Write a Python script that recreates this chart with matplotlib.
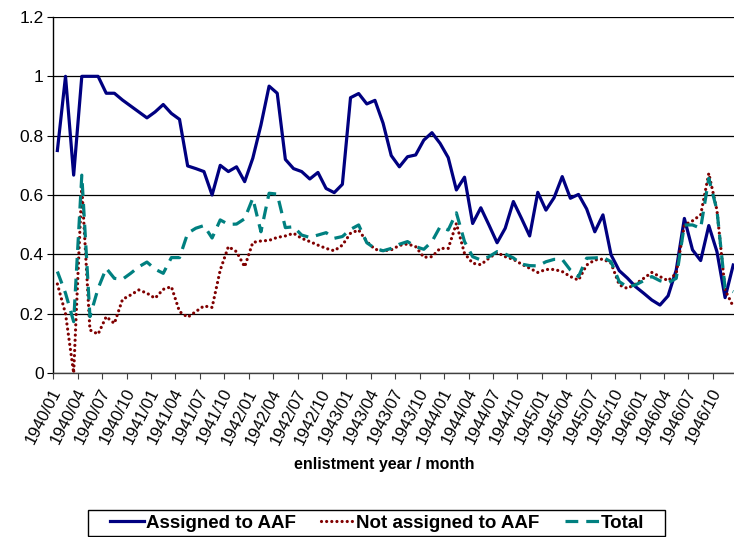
import matplotlib
matplotlib.use("Agg")
import matplotlib.pyplot as plt
from matplotlib.patches import Rectangle

plt.rcParams["font.family"] = ["Liberation Sans", "DejaVu Sans"]

# monthly series, 1940/01 .. 1946/12
assigned = [
    0.75, 1.0, 0.667, 1.0, 1.0, 1.0, 0.943, 0.943, 0.92, 0.90, 0.88, 0.86,
    0.88, 0.905, 0.875, 0.855, 0.698, 0.689, 0.679, 0.60, 0.70, 0.679, 0.695, 0.645,
    0.724, 0.836, 0.967, 0.943, 0.72, 0.689, 0.679, 0.654, 0.676, 0.622, 0.608, 0.636,
    0.928, 0.942, 0.907, 0.919, 0.842, 0.733, 0.695, 0.729, 0.735, 0.785, 0.81, 0.774,
    0.726, 0.617, 0.66, 0.504, 0.557, 0.499, 0.439, 0.488, 0.578, 0.521, 0.462, 0.609,
    0.549, 0.591, 0.662, 0.589, 0.602, 0.553, 0.476, 0.533, 0.398, 0.345, 0.32, 0.291,
    0.269, 0.246, 0.229, 0.26, 0.347, 0.521, 0.415, 0.379, 0.497, 0.409, 0.254, 0.364,
]
not_assigned = [
    0.30, 0.20, 0.0, 0.628, 0.145, 0.131, 0.19, 0.167, 0.248, 0.263, 0.28, 0.269,
    0.252, 0.282, 0.291, 0.207, 0.188, 0.207, 0.226, 0.221, 0.347, 0.426, 0.409, 0.358,
    0.44, 0.445, 0.447, 0.457, 0.462, 0.471, 0.454, 0.443, 0.431, 0.42, 0.412, 0.431,
    0.471, 0.482, 0.443, 0.417, 0.412, 0.415, 0.43, 0.435, 0.426, 0.39, 0.392, 0.42,
    0.42, 0.504, 0.403, 0.37, 0.365, 0.387, 0.406, 0.392, 0.383, 0.367, 0.353, 0.339,
    0.349, 0.349, 0.342, 0.325, 0.313, 0.364, 0.381, 0.384, 0.37, 0.297, 0.285, 0.30,
    0.319, 0.339, 0.325, 0.311, 0.336, 0.499, 0.513, 0.533, 0.673, 0.549, 0.28, 0.224,
]
total = [
    0.342, 0.269, 0.173, 0.667, 0.19, 0.285, 0.353, 0.319, 0.316, 0.336, 0.358, 0.374,
    0.35, 0.336, 0.389, 0.389, 0.471, 0.488, 0.497, 0.455, 0.516, 0.501, 0.502, 0.52,
    0.589, 0.476, 0.606, 0.603, 0.49, 0.493, 0.465, 0.457, 0.465, 0.473, 0.454, 0.46,
    0.484, 0.499, 0.439, 0.42, 0.412, 0.42, 0.434, 0.443, 0.426, 0.417, 0.443, 0.493,
    0.482, 0.54, 0.443, 0.392, 0.381, 0.392, 0.409, 0.401, 0.388, 0.367, 0.362, 0.361,
    0.375, 0.383, 0.383, 0.347, 0.325, 0.387, 0.388, 0.39, 0.375, 0.308, 0.29, 0.297,
    0.311, 0.325, 0.311, 0.304, 0.319, 0.499, 0.499, 0.488, 0.656, 0.549, 0.285, 0.274,
]
months = [f"{y}/{m:02d}" for y in range(1940, 1947) for m in range(1, 13)]
assert len(assigned) == len(not_assigned) == len(total) == len(months)

fig = plt.figure(figsize=(7.34, 5.37), dpi=100)
W, H = 734, 537
ax = fig.add_axes([53.3 / W, (H - 373) / H, 684 / W, 356 / H])

x = [i + 0.5 for i in range(len(months))]
ax.plot(x, assigned, color="#000080", lw=2.3, label="Assigned to AAF", zorder=3)
ax.plot(x, not_assigned, color="#800000", lw=2.3, ls=(0, (0.01, 1.6)),
        dash_capstyle="round", label="Not assigned to AAF", zorder=3)
ax.plot(x, total, color="#008080", lw=2.3, ls=(0, (4, 2.5)), label="Total", zorder=3)

ax.set_xlim(0, len(months))
ax.set_ylim(0, 1.2)
ax.set_yticks([0, 0.2, 0.4, 0.6, 0.8, 1.0, 1.2])
ax.set_yticklabels(["0", "0.2", "0.4", "0.6", "0.8", "1", "1.2"])
ax.yaxis.grid(True, color="black", lw=0.9)
ax.set_axisbelow(True)

for s in ["top", "right"]:
    ax.spines[s].set_visible(False)
ax.spines["left"].set_linewidth(1.0)
ax.spines["bottom"].set_linewidth(1.0)
ax.spines["bottom"].set_color("#404040")

# boundaries every quarter, labels at category centres
ax.set_xticks(range(0, len(months) + 1, 3))
ax.set_xticklabels([])
ax.set_xticks(x[::3], minor=True)
ax.set_xticklabels(months[::3], minor=True)
ax.tick_params(axis="x", which="major", length=4, color="#404040")
ax.tick_params(axis="x", which="minor", length=0, pad=12)
ax.tick_params(axis="y", length=4, pad=3, labelsize=12.5)
for lab in ax.get_xticklabels(minor=True):
    lab.set_fontsize(12)
    lab.set_rotation(63)
    lab.set_ha("right")
    lab.set_va("center")
    lab.set_rotation_mode("anchor")

fig.text(384 / W, 1 - 465 / H, "enlistment year / month", ha="center", va="center",
         fontsize=11.5, fontweight="bold")

# legend frame drawn separately so the inner padding matches
fig.patches.append(Rectangle((88 / W, 1 - 536 / H), 577 / W, 26 / H,
                             transform=fig.transFigure, fill=False,
                             edgecolor="black", lw=1.0))
leg = fig.legend(loc="center", bbox_to_anchor=(377 / W, 1 - 523 / H), ncol=3,
                 prop={"weight": "bold", "size": 13.5}, frameon=False,
                 handlelength=1.8, handletextpad=0.1, columnspacing=1.35,
                 borderpad=0.0)

fig.savefig("out.png", dpi=100)
